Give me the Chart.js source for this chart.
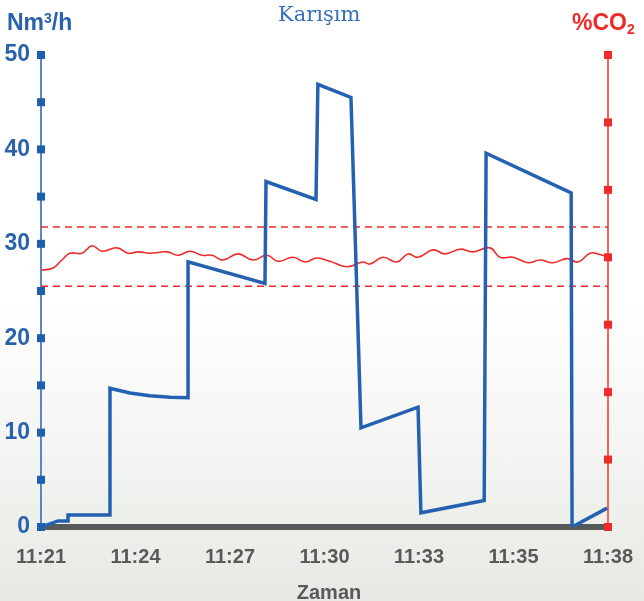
<!DOCTYPE html>
<html>
<head>
<meta charset="utf-8">
<script src="https://cdn.jsdelivr.net/npm/chart.js@4.4.0/dist/chart.umd.min.js"></script>
<style>
    body { margin: 0; }
    #wrap {
        position: relative;
        width: 644px;
        height: 601px;
        background: linear-gradient(to bottom, #ffffff 0%, #ffffff 50%, #f4f5f2 75%, #e6e9e3 100%);
        font-family: "Liberation Sans", Arial, sans-serif;
    }
    #mixChart { position: absolute; left: 0; top: 0; }
    .txt { position: absolute; white-space: nowrap; line-height: 1; }
    #unitLeft { left: 7px; top: 11px; font-size: 23px; font-weight: bold; color: #2a62ae; }
    #unitLeft sup { font-size: 14px; vertical-align: 7px; }
    #unitRight { left: 572px; top: 11px; font-size: 23px; font-weight: bold; color: #ee2a2a; }
    #unitRight sub { font-size: 14px; vertical-align: -4px; }
    #title { left: 278px; top: 4px; font-family: "DejaVu Serif", serif; font-size: 21px; color: #3570b8; }
    #xTitle { left: 0; width: 658px; text-align: center; top: 582px; font-size: 20px; font-weight: bold; color: #58595b; }
</style>
</head>
<body>
<div id="wrap">
    <canvas id="mixChart" width="644" height="601"></canvas>
    <div class="txt" id="unitLeft">Nm<sup>3</sup>/h</div>
    <div class="txt" id="unitRight">%CO<sub>2</sub></div>
    <div class="txt" id="title">Karışım</div>
    <div class="txt" id="xTitle">Zaman</div>
</div>
<script>
// x positions are in label steps (0 = 11:21 ... 6 = 11:38)
const timeLabels = ['11:21', '11:24', '11:27', '11:30', '11:33', '11:35', '11:38'];

// gas flow, Nm3/h (left axis)
const flowX = [0, 0.18, 0.286, 0.286, 0.73, 0.73, 0.94, 1.153, 1.365, 1.556, 1.556, 2.37, 2.381, 2.91, 2.93, 3.28, 3.386, 3.99, 4.02, 4.69, 4.71, 5.61, 5.62, 5.99];
const flowY = [0, 0.64, 0.64, 1.27, 1.27, 14.7, 14.2, 13.9, 13.75, 13.7, 28.1, 25.8, 36.6, 34.7, 46.9, 45.5, 10.5, 12.7, 1.5, 2.8, 39.6, 35.4, 0, 2.0];

// CO2 %, right axis
const co2X = [0.007, 0.127, 0.222, 0.307, 0.434, 0.54, 0.646, 0.804, 0.921, 1.026, 1.153, 1.333, 1.45, 1.577, 1.704, 1.81, 1.926, 2.085, 2.243, 2.392, 2.508, 2.667, 2.794, 2.921, 3.058, 3.238, 3.407, 3.481, 3.619, 3.767, 3.884, 3.989, 4.148, 4.275, 4.434, 4.571, 4.751, 4.857, 4.995, 5.153, 5.28, 5.418, 5.566, 5.683, 5.81, 5.894, 6.0];
const co2Y = [3.81, 3.84, 3.96, 4.06, 4.06, 4.17, 4.09, 4.14, 4.06, 4.08, 4.06, 4.08, 4.03, 4.09, 4.03, 4.03, 3.96, 4.05, 3.96, 4.03, 3.94, 4.00, 3.93, 3.99, 3.94, 3.86, 3.93, 3.90, 4.00, 3.93, 4.05, 4.00, 4.11, 4.05, 4.12, 4.08, 4.14, 4.00, 4.00, 3.92, 3.96, 3.92, 3.98, 3.93, 4.06, 4.05, 4.00];

// CO2 tolerance band
const co2Upper = 4.45;
const co2Lower = 3.57;

const blue = '#2461b0';
const red = '#ee2b2b';

function toPoints(xs, ys) {
    return xs.map((x, i) => ({ x: x, y: ys[i] }));
}

// little square markers on both axis lines
const axisSquares = {
    id: 'axisSquares',
    afterDatasetsDraw(chart) {
        const ctx = chart.ctx;
        const s = 8;
        [['y', '#1f5fb0'], ['y2', '#ee2a2a']].forEach(([id, col]) => {
            const scale = chart.scales[id];
            const xPos = id === 'y' ? chart.chartArea.left : chart.chartArea.right;
            ctx.save();
            ctx.fillStyle = col;
            scale.ticks.forEach(t => {
                const yPos = scale.getPixelForValue(t.value);
                ctx.fillRect(xPos - s / 2, yPos - s / 2, s, s);
            });
            ctx.restore();
        });
    }
};

const ctx = document.getElementById('mixChart').getContext('2d');
new Chart(ctx, {
    type: 'line',
    data: {
        datasets: [
            {
                label: 'Karışım',
                data: toPoints(flowX, flowY),
                borderColor: blue,
                borderWidth: 3.5,
                tension: 0,
                pointRadius: 0,
                yAxisID: 'y'
            },
            {
                label: 'CO2',
                data: toPoints(co2X, co2Y),
                borderColor: red,
                borderWidth: 1.6,
                tension: 0.45,
                pointRadius: 0,
                yAxisID: 'y2'
            },
            {
                label: 'upper',
                data: [{ x: 0, y: co2Upper }, { x: 6, y: co2Upper }],
                borderColor: red,
                borderWidth: 1.5,
                borderDash: [7, 5],
                pointRadius: 0,
                yAxisID: 'y2'
            },
            {
                label: 'lower',
                data: [{ x: 0, y: co2Lower }, { x: 6, y: co2Lower }],
                borderColor: red,
                borderWidth: 1.5,
                borderDash: [7, 5],
                pointRadius: 0,
                yAxisID: 'y2'
            }
        ]
    },
    options: {
        responsive: false,
        animation: false,
        devicePixelRatio: 1,
        layout: { padding: { top: 55, left: 0, right: 0, bottom: 0 } },
        plugins: {
            legend: { display: false },
            tooltip: { enabled: false }
        },
        scales: {
            x: {
                type: 'linear',
                min: 0,
                max: 6,
                afterFit: s => {
                    s.height = 74;
                    s.paddingLeft = 0; // keep the edge labels from shrinking the plot
                    s.paddingRight = 0;
                },
                grid: { display: false, drawTicks: false },
                border: { display: true, color: '#58595b', width: 6 },
                ticks: {
                    stepSize: 1,
                    padding: 18,
                    maxRotation: 0,
                    color: '#58595b',
                    font: { family: 'Liberation Sans', size: 20, weight: 'bold' },
                    callback: v => timeLabels[v]
                }
            },
            y: {
                position: 'left',
                min: 0,
                max: 50,
                afterFit: s => { s.width = 41; },
                grid: { display: false, drawTicks: false },
                border: { display: true, color: '#5b86c6', width: 2 },
                ticks: {
                    stepSize: 5,
                    padding: 11,
                    color: '#2a62ae',
                    font: { family: 'Liberation Sans', size: 23, weight: 'bold' },
                    callback: v => (v % 10 === 0 ? v : '')
                }
            },
            y2: {
                position: 'right',
                min: 0,
                max: 7,
                afterFit: s => { s.width = 36; },
                grid: { display: false, drawTicks: false },
                border: { display: true, color: '#f2665a', width: 2 },
                ticks: { stepSize: 1, display: false }
            }
        }
    },
    plugins: [axisSquares]
});
</script>
</body>
</html>
